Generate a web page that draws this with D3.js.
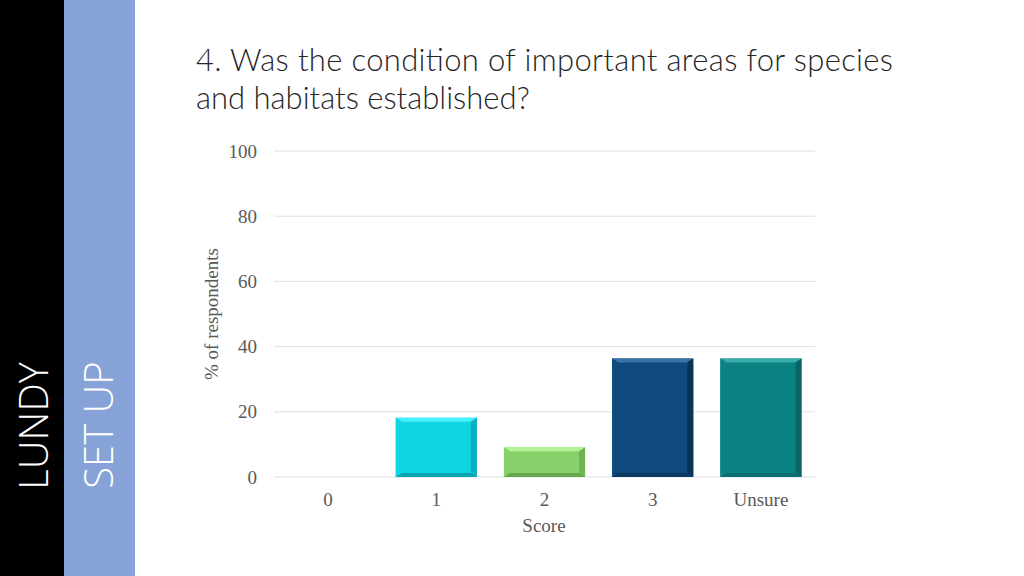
<!DOCTYPE html>
<html><head><meta charset="utf-8">
<script src="https://cdn.jsdelivr.net/npm/d3@7"></script>
<style>body{margin:0;background:#fff}svg{display:block}</style>
</head><body>
<script>
const categories = ["0","1","2","3","Unsure"];
const values = [0, 18.18, 9.09, 36.36, 36.36];
const yTicks = [0,20,40,60,80,100];
const faceColors = ["#10d4e2","#10d4e2","#88d16a","#0f4a7e","#0d8285"];
const topColors = ["#44f2ff","#44f2ff","#b2f396","#3b70a8","#3aacaa"];
const sideColors = ["#0cb0bd","#0cb0bd","#6fb454","#0a3358","#086567"];
const botColors = ["#0aa4b0","#0aa4b0","#64a74c","#0c3a64","#0a6f70"];

const W=1024,H=576;
const svg=d3.select("body").append("svg").attr("width",W).attr("height",H);
svg.append("rect").attr("x",0).attr("y",0).attr("width",64).attr("height",H).attr("fill","#000");
svg.append("rect").attr("x",64).attr("y",0).attr("width",71).attr("height",H).attr("fill","#87a2d6");
svg.append("text").attr("transform","translate(48,426) rotate(-90)").attr("text-anchor","middle")
  .attr("font-family","Open Sans, sans-serif").attr("font-weight",300).attr("font-size",40).attr("fill","#fff").text("LUNDY");
svg.append("text").attr("transform","translate(113,425) rotate(-90)").attr("text-anchor","middle")
  .attr("font-family","Open Sans, sans-serif").attr("font-weight",300).attr("font-size",40).attr("fill","#fff").text("SET UP");

const title=svg.append("text").attr("font-family","Lato, sans-serif").attr("font-weight",300).attr("font-size",31).attr("fill","#262626");
title.append("tspan").attr("x",196).attr("y",71).attr("textLength",697).attr("lengthAdjust","spacing").text("4. Was the condition of important areas for species");
title.append("tspan").attr("x",196).attr("y",109).text("and habitats established?");

const x=d3.scaleBand().domain(categories).range([274,815]).paddingInner(0.25).paddingOuter(0.125);
const y=d3.scaleLinear().domain([0,100]).range([477,151]);
const serif="Liberation Serif, Georgia, serif";
const fs=19;

svg.append("g").selectAll("line").data(yTicks).join("line")
  .attr("x1",274).attr("x2",815).attr("y1",d=>y(d)).attr("y2",d=>y(d))
  .attr("stroke","#e0e0e0").attr("stroke-width",1);

const yAxis=svg.append("g").attr("transform","translate(274,0)")
  .call(d3.axisLeft(y).tickValues(yTicks).tickSize(0).tickPadding(17));
yAxis.select(".domain").remove();
yAxis.selectAll("text").attr("font-family",serif).attr("font-size",fs).attr("fill","#595959");

const xAxis=svg.append("g").attr("transform","translate(0,477)")
  .call(d3.axisBottom(x).tickSize(0).tickPadding(16));
xAxis.select(".domain").remove();
xAxis.selectAll("text").attr("font-family",serif).attr("font-size",fs).attr("fill","#595959");

svg.append("text").attr("x",544).attr("y",532).attr("text-anchor","middle")
  .attr("font-family",serif).attr("font-size",fs).attr("fill","#595959").text("Score");
svg.append("text").attr("transform","translate(218,314) rotate(-90)").attr("text-anchor","middle")
  .attr("font-family",serif).attr("font-size",fs).attr("fill","#595959").text("% of respondents");

const data=categories.map((c,i)=>({c,v:values[i],i})).filter(d=>d.v>0);
const g=svg.append("g").selectAll("g").data(data).join("g");
const b=6, bt=4;
g.each(function(d){
  const s=d3.select(this);
  const x0=x(d.c), x1=x0+x.bandwidth(), y0=y(d.v), y1=y(0);
  const pts=(a)=>a.map(p=>p.join(",")).join(" ");
  s.append("rect").attr("x",x0).attr("y",y0).attr("width",x1-x0).attr("height",y1-y0).attr("fill",faceColors[d.i]);
  s.append("polygon").attr("points",pts([[x0,y0],[x1,y0],[x1-b,y0+bt],[x0+b,y0+bt]])).attr("fill",topColors[d.i]);
  s.append("polygon").attr("points",pts([[x1,y0],[x1,y1],[x1-b,y1-bt],[x1-b,y0+bt]])).attr("fill",sideColors[d.i]);
  s.append("polygon").attr("points",pts([[x0,y1],[x1,y1],[x1-b,y1-bt],[x0+b,y1-bt]])).attr("fill",botColors[d.i]);
  s.append("polygon").attr("points",pts([[x0,y0],[x0+b,y0+bt],[x0+b,y1-bt],[x0,y1]])).attr("fill",faceColors[d.i]).attr("opacity",0.9);
});
</script>
</body></html>
